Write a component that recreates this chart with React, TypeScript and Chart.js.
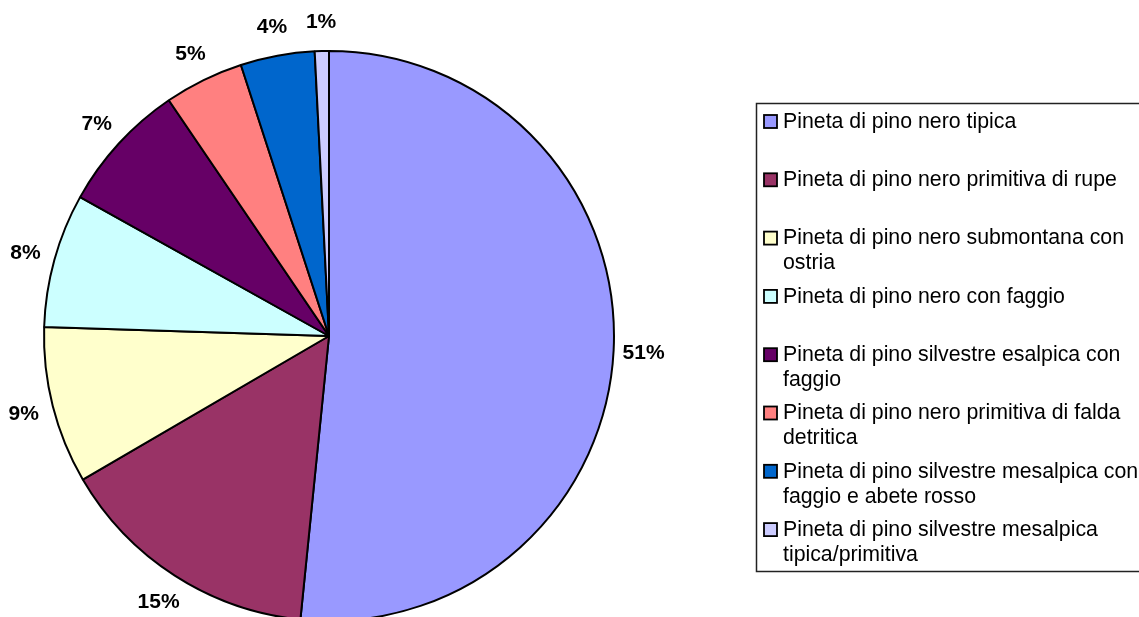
import React, { useEffect, useRef } from "react";
import { Chart, registerables } from "chart.js";

Chart.register(...registerables);

const categories = [
  "Pineta di pino nero tipica",
  "Pineta di pino nero primitiva di rupe",
  "Pineta di pino nero submontana con ostria",
  "Pineta di pino nero con faggio",
  "Pineta di pino silvestre esalpica con faggio",
  "Pineta di pino nero primitiva di falda detritica",
  "Pineta di pino silvestre mesalpica con faggio e abete rosso",
  "Pineta di pino silvestre mesalpica tipica/primitiva",
];

const values = [51.6, 15.0, 8.9, 7.6, 7.4, 4.5, 4.2, 0.8];

const valueLabels = ["51%", "15%", "9%", "8%", "7%", "5%", "4%", "1%"];

const colors = [
  "#9999FF",
  "#993366",
  "#FFFFCC",
  "#CCFFFF",
  "#660066",
  "#FF8080",
  "#0066CC",
  "#CCCCFF",
];

const FONT = '"Liberation Sans", Arial, sans-serif';

const pieLabelsPlugin = {
  id: "pieLabels",
  afterDatasetsDraw(chart: any) {
    const ctx = chart.ctx;
    const meta = chart.getDatasetMeta(0);
    ctx.save();
    ctx.font = `bold 21px ${FONT}`;
    ctx.fillStyle = "#000";
    ctx.textAlign = "center";
    ctx.textBaseline = "middle";
    meta.data.forEach((arc: any, i: number) => {
      const p = arc.getProps(["x", "y", "startAngle", "endAngle", "outerRadius"], true);
      const mid = (p.startAngle + p.endAngle) / 2;
      const d = p.outerRadius + 30;
      ctx.fillText(valueLabels[i], p.x + Math.cos(mid) * d, p.y + Math.sin(mid) * d + 1);
    });
    ctx.restore();
  },
};

function wrap(ctx: CanvasRenderingContext2D, text: string, maxW: number): string[] {
  const words = text.split(" ");
  const lines: string[] = [];
  let cur = "";
  for (const w of words) {
    const t = cur ? cur + " " + w : w;
    if (ctx.measureText(t).width > maxW && cur) {
      lines.push(cur);
      cur = w;
    } else cur = t;
  }
  if (cur) lines.push(cur);
  return lines;
}

const legendPlugin = {
  id: "boxLegend",
  afterDraw(chart: any) {
    const ctx = chart.ctx;
    const labels = chart.data.labels as string[];
    const bg = chart.data.datasets[0].backgroundColor as string[];
    const boxL = 756.5, boxT = 103.5, boxB = 571.5, boxR = 1150;
    ctx.save();
    ctx.strokeStyle = "#222";
    ctx.lineWidth = 1.5;
    ctx.strokeRect(boxL, boxT, boxR - boxL, boxB - boxT);
    ctx.font = `21.3px ${FONT}`;
    ctx.textBaseline = "middle";
    ctx.textAlign = "left";
    const slot = 58.3;
    labels.forEach((lab, i) => {
      const cy = 122 + i * slot;
      ctx.fillStyle = bg[i];
      ctx.fillRect(764, cy - 7, 13, 13);
      ctx.strokeStyle = "#000";
      ctx.lineWidth = 1.8;
      ctx.strokeRect(764, cy - 7, 13, 13);
      ctx.fillStyle = "#000";
      const lines = wrap(ctx, lab, 358);
      lines.forEach((ln, j) => {
        ctx.fillText(ln, 783, cy + j * 25);
      });
    });
    ctx.restore();
  },
};

export default function App() {
  const ref = useRef<HTMLCanvasElement | null>(null);
  useEffect(() => {
    if (!ref.current) return;
    const chart = new Chart(ref.current, {
      type: "pie",
      data: {
        labels: categories,
        datasets: [
          {
            data: values,
            backgroundColor: colors,
            borderColor: "#000",
            borderWidth: 2,
            radius: 285,
            clip: false,
          } as any,
        ],
      },
      options: {
        animation: false,
        responsive: false,
        events: [],
        layout: { padding: { left: 0, right: 481, top: 55, bottom: 0 } },
        plugins: {
          legend: { display: false },
          tooltip: { enabled: false },
        },
      },
      plugins: [pieLabelsPlugin, legendPlugin],
    });
    return () => chart.destroy();
  }, []);
  return (
    <div
      style={{
        position: "fixed",
        left: 0,
        top: 0,
        width: 1139,
        height: 617,
        overflow: "hidden",
        background: "#fff",
      }}
    >
      <canvas ref={ref} width={1139} height={617} style={{ display: "block" }} />
    </div>
  );
}
